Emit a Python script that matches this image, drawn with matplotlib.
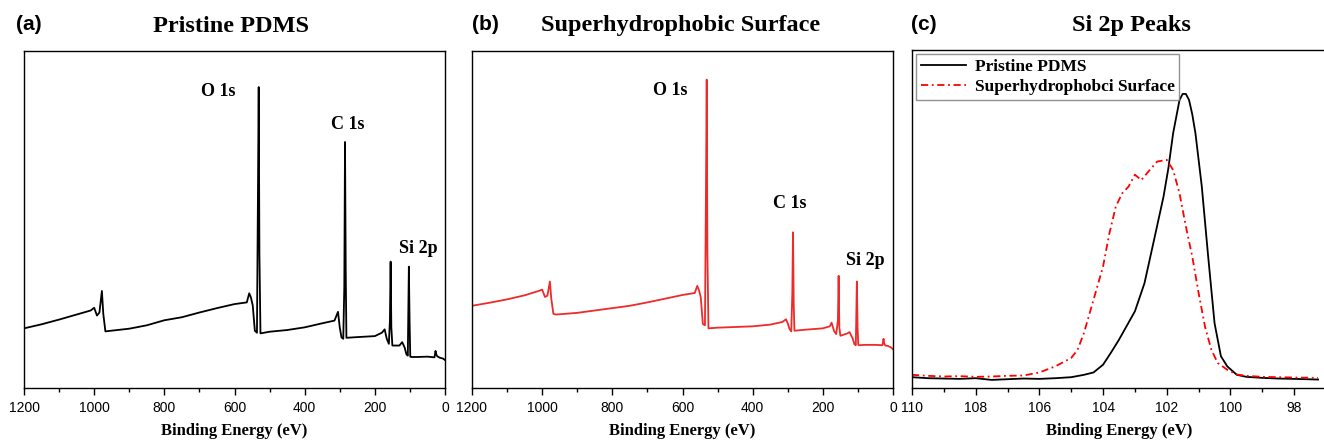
import numpy as np
import matplotlib
matplotlib.use('Agg')
import matplotlib.pyplot as plt

plt.rcParams['font.family'] = 'Liberation Sans'

# survey spectrum, pristine PDMS (binding energy eV, intensity a.u.)
pdms_be = [1200, 1150, 1100, 1050, 1010, 1000, 992, 985, 978, 974, 968, 960, 900, 850, 800,
           750, 700, 650, 600, 565, 558, 553, 548, 542, 536, 533, 531, 529, 526, 500, 450,
           400, 350, 315, 305, 300, 295, 290, 287, 285, 283, 281, 250, 200, 180, 172, 166,
           160, 157, 155, 153, 150, 130, 122, 115, 110, 106, 103, 101, 99, 96, 80, 50, 30,
           27, 25, 22, 15, 5, 0]
pdms_int = [17.7, 18.9, 20.3, 21.8, 23.0, 23.8, 21.5, 22.4, 28.8, 22.0, 16.8, 16.9, 17.6, 18.6, 20.1,
            21.0, 22.4, 23.7, 24.9, 25.4, 28.1, 26.8, 24.5, 17.0, 16.4, 60.0, 89.3, 40.0, 16.2, 16.7, 17.2,
            18.0, 19.2, 20.0, 22.6, 18.0, 15.0, 14.6, 30.0, 73.0, 35.0, 14.9, 15.1, 15.4, 16.4, 17.4, 14.6,
            13.1, 20.0, 37.5, 18.0, 12.6, 12.6, 13.6, 12.0, 10.0, 9.6, 36.0, 20.0, 9.3, 9.2, 9.2, 9.3, 9.1,
            11.0, 10.0, 9.4, 9.0, 8.7, 8.3]

# survey spectrum, superhydrophobic surface
shs_be = [1200, 1150, 1100, 1050, 1010, 1000, 992, 985, 978, 974, 968, 960, 900, 850, 800,
          750, 700, 650, 600, 565, 558, 553, 548, 542, 536, 533, 531, 529, 526, 500, 450,
          400, 350, 315, 305, 300, 295, 290, 287, 285, 283, 281, 250, 200, 180, 175, 168,
          162, 157, 155, 153, 150, 130, 124, 115, 110, 106, 103, 101, 99, 96, 80, 50, 30,
          27, 25, 22, 15, 5, 0]
shs_int = [24.4, 25.3, 26.3, 27.5, 28.8, 29.2, 27.0, 27.4, 31.6, 26.5, 22.0, 21.8, 22.3, 23.0, 23.7,
           24.4, 25.4, 26.5, 27.6, 28.2, 30.3, 29.0, 27.0, 19.0, 18.6, 60.0, 91.5, 40.0, 17.7, 17.9, 18.1,
           18.3, 18.8, 19.6, 20.4, 19.2, 17.5, 16.8, 28.0, 46.2, 25.0, 17.0, 17.3, 17.7, 18.3, 19.4, 16.9,
           16.0, 20.0, 33.3, 18.0, 15.5, 16.2, 16.6, 14.7, 13.0, 12.7, 31.6, 18.0, 12.8, 12.7, 12.8, 12.8, 12.7,
           14.6, 13.2, 12.6, 12.5, 12.0, 11.5]

# Si 2p high resolution
si_pdms_be = [110, 109.5, 109, 108.5, 108, 107.5, 107, 106.5, 106, 105.5, 105, 104.6, 104.3, 104.0,
              103.75, 103.5, 103.25, 103.0, 102.7, 102.4, 102.1, 101.95, 101.8, 101.6, 101.5, 101.4,
              101.3, 101.2, 101.1, 100.9, 100.7, 100.5, 100.3, 100.1, 99.8, 99.5, 99, 98.5, 98, 97.25]
si_pdms_int = [3.2, 2.9, 2.8, 2.7, 2.9, 2.4, 2.6, 2.8, 2.7, 2.9, 3.2, 3.9, 4.6, 6.9,
               10.5, 14.3, 18.5, 22.7, 31.0, 43.8, 56.7, 65.0, 75.4, 85.2, 87.0, 87.0,
               85.2, 81.0, 75.4, 59.6, 38.9, 19.2, 9.4, 6.4, 3.9, 3.3, 3.0, 2.8, 2.7, 2.5]

si_shs_be = [110, 109.5, 109, 108.5, 108, 107.5, 107, 106.5, 106, 105.5, 105, 104.8, 104.6, 104.3,
             104.0, 103.8, 103.6, 103.4, 103.2, 103.0, 102.8, 102.5, 102.3, 102.0, 101.8, 101.6,
             101.4, 101.2, 101.0, 100.8, 100.6, 100.4, 100.1, 99.8, 99.5, 99, 98.5, 98, 97.25]
si_shs_int = [3.9, 3.6, 3.4, 3.5, 3.3, 3.4, 3.6, 3.7, 4.6, 6.4, 8.9, 11.3, 16.3, 26.1,
              36.0, 45.8, 53.7, 57.6, 59.6, 63.1, 61.5, 64.9, 67.0, 67.5, 64.5, 57.6,
              47.8, 38.9, 28.1, 18.2, 11.3, 7.4, 5.4, 4.0, 3.6, 3.3, 3.2, 3.1, 3.0]

# peak labels: (text, x, y)
labels_a = [('O 1s', 647, 88.1), ('C 1s', 277, 78.2), ('Si 2p', 77, 41.4)]
labels_b = [('O 1s', 636, 88.4), ('C 1s', 294, 54.6), ('Si 2p', 80, 37.8)]

serif_bold = {'family': 'Liberation Serif', 'weight': 'bold'}

fig = plt.figure(figsize=(13.24, 4.43), dpi=100)
ax_a = fig.add_axes([24/1324, 55/443, 421/1324, 337/443])
ax_b = fig.add_axes([472/1324, 55/443, 421/1324, 337/443])
ax_c = fig.add_axes([912/1324, 55/443, 414/1324, 338/443])


def style_axis(ax, xlim, major, minor):
    ax.set_xlim(*xlim)
    ax.set_ylim(0, 100)
    ax.set_yticks([])
    ax.set_xticks(major)
    ax.set_xticks(minor, minor=True)
    ax.tick_params(axis='x', which='major', length=5, width=1, labelsize=10, pad=4, direction='out')
    ax.tick_params(axis='x', which='minor', length=3, width=1, direction='out')
    for s in ax.spines.values():
        s.set_linewidth(1.0)
    ax.set_xlabel('Binding Energy (eV)', fontdict=serif_bold, fontsize=12, labelpad=6)


# (a)
ax_a.plot(pdms_be, pdms_int, color='black', lw=1.3)
for t, x, y in labels_a:
    ax_a.text(x, y, t, ha='center', va='center', fontsize=13, **serif_bold)
style_axis(ax_a, (1200, 0), np.arange(0, 1201, 200), np.arange(100, 1200, 200))

# (b)
ax_b.plot(shs_be, shs_int, color='#ee2a2a', lw=1.3)
for t, x, y in labels_b:
    ax_b.text(x, y, t, ha='center', va='center', fontsize=13, **serif_bold)
style_axis(ax_b, (1200, 0), np.arange(0, 1201, 200), np.arange(100, 1200, 200))

# (c)
ax_c.plot(si_pdms_be, si_pdms_int, color='black', lw=1.3, label='Pristine PDMS')
ax_c.plot(si_shs_be, si_shs_int, color='red', lw=1.3, linestyle=(0, (4, 2, 1, 2)),
          label='Superhydrophobci Surface')
style_axis(ax_c, (110, 97.25), np.arange(98, 111, 2), np.arange(97, 110, 2))
leg = ax_c.legend(loc='upper left', prop={'family': 'Liberation Serif', 'weight': 'bold', 'size': 12.5},
                  frameon=True, fancybox=False, edgecolor='#777777', handlelength=2.6,
                  borderaxespad=0.25, borderpad=0.25, labelspacing=0.25, handletextpad=0.5)
leg.get_frame().set_linewidth(1.0)

# titles and panel letters
fig.text(231/1324, 1 - 26/443, 'Pristine PDMS', ha='center', va='center', fontsize=17.5, **serif_bold)
fig.text(681/1324, 1 - 26/443, 'Superhydrophobic Surface', ha='center', va='center', fontsize=17.5, **serif_bold)
fig.text(1131/1324, 1 - 26/443, 'Si 2p Peaks', ha='center', va='center', fontsize=17.5, **serif_bold)
fig.text(16/1324, 1 - 24/443, '(a)', ha='left', va='center', fontsize=15, fontweight='bold')
fig.text(472/1324, 1 - 24/443, '(b)', ha='left', va='center', fontsize=15, fontweight='bold')
fig.text(911/1324, 1 - 24/443, '(c)', ha='left', va='center', fontsize=15, fontweight='bold')

fig.savefig('out.png', dpi=100)
